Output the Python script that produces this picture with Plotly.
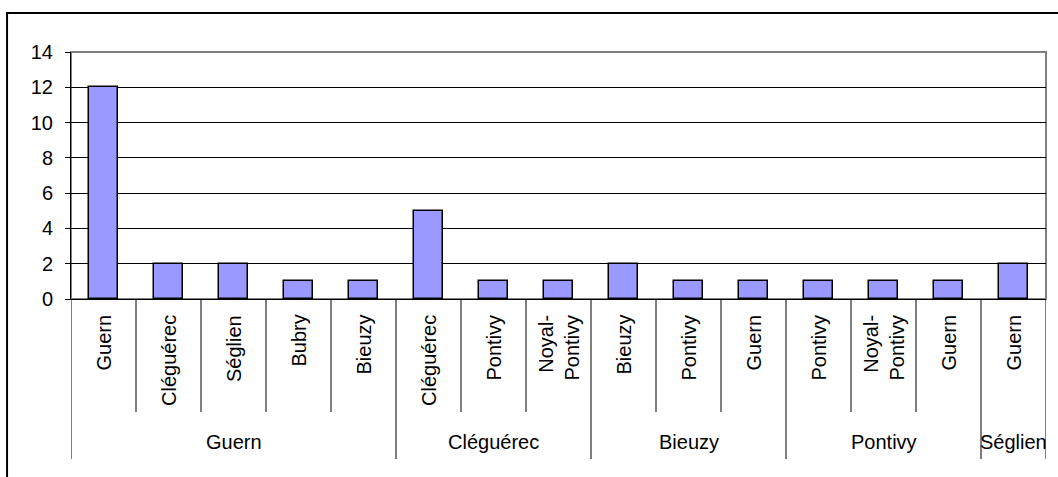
import plotly.graph_objects as go

# Communes (inner level) grouped by origin commune (outer level)
communes = ["Guern", "Cléguérec", "Séglien", "Bubry", "Bieuzy",
            "Cléguérec", "Pontivy", "Noyal-<br>Pontivy",
            "Bieuzy", "Pontivy", "Guern",
            "Pontivy", "Noyal-<br>Pontivy", "Guern",
            "Guern"]
groups = ["Guern", "Cléguérec", "Bieuzy", "Pontivy", "Séglien"]
group_sizes = [5, 3, 3, 3, 1]
values = [12, 2, 2, 1, 1, 5, 1, 1, 2, 1, 1, 1, 1, 1, 2]
y_ticks = [0, 2, 4, 6, 8, 10, 12, 14]

FONT = "Liberation Sans, Arial, sans-serif"
positions = list(range(len(values)))

fig = go.Figure(
    go.Bar(
        x=positions, y=values, width=0.45,
        marker=dict(color="#9999FF", line=dict(color="#000000", width=1.5)),
        hoverinfo="y",
    )
)

shapes = []
annotations = []

# Inner category labels, rotated, hanging below the axis
for i, name in enumerate(communes):
    annotations.append(dict(
        x=i, xref="x", y=0, yref="paper", yshift=-14,
        text=name, textangle=-90, showarrow=False,
        xanchor="center", yanchor="top", align="right",
        font=dict(family=FONT, size=20, color="#000000"),
    ))

# Short dividers between communes, long dividers between groups
boundaries = [-0.5]
for s in group_sizes:
    boundaries.append(boundaries[-1] + s)
for b in [p - 0.5 for p in range(len(values) + 1)]:
    long_div = b in boundaries
    shapes.append(dict(
        type="line", xref="x", yref="paper", ysizemode="pixel", yanchor=0,
        x0=b, x1=b, y0=0, y1=-160 if long_div else -113,
        line=dict(color="#000000", width=1),
    ))

# Outer group labels
for g, lo, hi in zip(groups, boundaries[:-1], boundaries[1:]):
    annotations.append(dict(
        x=(lo + hi) / 2, xref="x", y=0, yref="paper", yshift=-143,
        text=g, showarrow=False, xanchor="center", yanchor="middle",
        font=dict(family=FONT, size=20, color="#000000"),
    ))

# Plot area border (top / right) and the chart frame
shapes.append(dict(type="rect", xref="paper", yref="paper", x0=0, x1=1, y0=0, y1=1,
                   line=dict(color="#808080", width=2), layer="below"))
shapes.append(dict(type="rect", xref="paper", yref="paper",
                   x0=-0.0656, x1=1.02, y0=-0.75, y1=1.158,
                   line=dict(color="#000000", width=2)))

fig.update_layout(
    width=1058, height=477,
    margin=dict(l=71, r=12, t=52, b=178),
    paper_bgcolor="#ffffff", plot_bgcolor="#ffffff",
    showlegend=False,
    font=dict(family=FONT, size=20, color="#000000"),
    xaxis=dict(
        range=[-0.5, len(values) - 0.5], showticklabels=False, ticks="",
        showgrid=False, zeroline=False, showline=True, linecolor="#000000", linewidth=1,
        fixedrange=True,
    ),
    yaxis=dict(
        range=[0, 14], tickvals=y_ticks, ticks="outside", ticklen=5, tickcolor="#000000",
        showline=True, linecolor="#000000", linewidth=1,
        showgrid=True, gridcolor="#000000", gridwidth=1, zeroline=False,
        tickfont=dict(family=FONT, size=20, color="#000000"),
        ticklabelstandoff=8, fixedrange=True,
    ),
    shapes=shapes,
    annotations=annotations,
    bargap=0,
)

fig.write_html("out.html")
